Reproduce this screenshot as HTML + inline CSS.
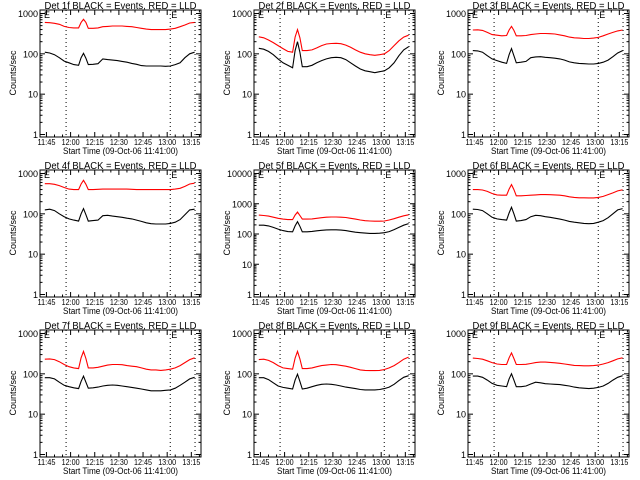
<!DOCTYPE html>
<html><head><meta charset="utf-8"><style>
html,body{margin:0;padding:0;background:#fff;}
svg{display:block;font-family:"Liberation Sans",sans-serif;}
</style></head><body>
<svg id="chart" width="640" height="480" viewBox="0 0 640 480"></svg>
<script>
// minutes since 11:41:00
const times = [3,6,9,12,15,18,21,24,25.5,27,28.5,30,33,36,39,42,45,48,51,54,57,60,63,66,69,72,75,78,81,84,87,90,93,96];
const xTickMinutes = [4,19,34,49,64,79,94];
const xTickLabels = ["11:45","12:00","12:15","12:30","12:45","13:00","13:15"];
const dottedMinutes = [16.2,80.9,96.3];
const detNames = ["1f","2f","3f","4f","5f","6f","7f","8f","9f"];
const yDecades = [3,3,3,3,4,3,3,3,3];
const red1 = [600,590,570,540,480,450,440,440,600,720,600,430,430,440,470,480,490,490,490,480,470,450,430,410,400,400,400,400,410,430,470,520,580,600];
const black1 = [110,105,95,80,66,60,54,52,80,103,78,54,55,57,75,72,70,68,65,62,58,55,51,50,50,50,50,49,50,54,60,80,100,110];
const red2 = [265,250,220,190,160,135,115,110,260,400,250,120,120,125,140,160,175,180,182,178,165,145,125,110,100,95,92,95,100,120,160,210,260,290];
const black2 = [137,130,115,95,75,60,52,45,120,200,110,48,48,52,60,68,75,80,82,80,72,60,50,42,38,36,34,36,38,45,60,90,125,150];
const red3 = [390,395,380,340,300,290,280,285,390,480,380,280,280,285,300,310,320,320,315,310,295,280,260,250,245,240,240,245,255,280,310,340,370,390];
const black3 = [120,118,110,90,75,68,62,58,95,135,90,60,62,65,80,84,85,82,80,78,75,70,63,60,58,57,56,56,58,62,70,85,105,120];
const red4 = [560,560,540,500,450,410,400,400,550,680,540,400,400,405,410,410,410,410,410,410,405,400,400,400,400,400,400,400,400,410,430,480,550,575];
const black4 = [125,130,120,100,85,75,70,66,100,135,95,66,68,70,90,92,88,85,82,78,75,70,65,60,57,56,56,56,58,62,72,95,125,130];
const red5 = [420,410,390,360,330,310,300,300,420,530,410,310,310,315,330,345,360,365,365,360,350,330,310,290,275,268,265,265,270,290,320,360,400,430];
const black5 = [195,195,185,165,145,130,120,118,185,255,180,118,118,122,128,133,137,138,138,135,130,122,115,110,107,105,105,106,110,120,140,165,195,220];
const red6 = [400,400,390,360,320,295,290,290,410,530,400,280,280,285,290,295,300,300,298,295,290,280,265,255,250,250,248,248,255,270,300,330,370,395];
const black6 = [130,128,120,100,82,75,72,70,105,145,100,66,68,72,85,92,90,85,82,78,74,70,65,62,60,58,57,58,62,68,80,100,125,135];
const red7 = [230,235,225,200,170,150,140,135,250,360,240,140,140,145,155,165,170,170,168,160,155,150,140,130,125,125,122,125,130,140,160,190,225,250];
const black7 = [80,80,75,62,52,48,45,43,65,88,62,44,45,47,50,52,53,52,50,48,46,44,42,40,38,38,38,39,40,44,52,62,75,82];
const red8 = [225,230,215,190,160,140,135,130,245,360,235,135,135,140,150,160,165,170,168,162,155,145,135,125,122,120,120,122,128,140,160,190,230,260];
const black8 = [80,80,72,60,50,46,44,42,70,98,65,42,44,48,52,55,56,55,53,50,47,45,43,41,40,40,40,41,43,47,55,68,82,90];
const red9 = [245,240,230,210,190,175,170,170,250,330,240,170,170,172,180,190,195,195,192,188,182,175,168,162,160,158,158,160,165,175,190,210,235,250];
const black9 = [88,88,82,70,58,52,50,48,75,100,70,48,48,50,56,62,60,57,56,55,54,52,50,47,45,44,43,44,46,50,58,70,82,90];
const redSeries = [red1,red2,red3,red4,red5,red6,red7,red8,red9];
const blackSeries = [black1,black2,black3,black4,black5,black6,black7,black8,black9];

const NS = "http://www.w3.org/2000/svg";
const svg = document.getElementById("chart");
function mk(tag, attrs, parent, txt){
  const e = document.createElementNS(NS, tag);
  for (const k in attrs) e.setAttribute(k, attrs[k]);
  if (txt !== undefined) e.textContent = txt;
  parent.appendChild(e);
  return e;
}
for (let p = 0; p < 9; p++) {
  const col = p % 3, row = Math.floor(p / 3);
  const ox = col * 214, oy = row * 160;
  const L = 40 + ox, R = 201 + ox, T = 10 + oy, B = 137 + oy;
  const nd = yDecades[p];
  const yTop = 13.5 + oy, yBot = 134.5 + oy;
  const xs = m => L + m * (R - L) / 100;
  const ys = v => yBot - Math.log10(v) * (yBot - yTop) / nd;
  const g = mk("g", {}, svg);
  
  
  const title = mk("text", {x:(L+R)/2, y:9+oy, "font-size":10, "text-anchor":"middle", textLength:152, lengthAdjust:"spacingAndGlyphs"}, g, "Det " + detNames[p] + " BLACK = Events, RED = LLD");
  
  
  dottedMinutes.forEach(m => {
    const d = mk("line", {x1:xs(m), x2:xs(m), y1:T, y2:B, stroke:"#000", "stroke-width":1, "stroke-dasharray":"1,3"}, g);
    
    
  });
  [2.5, 81.5].forEach(m => {
    const e = mk("text", {x:xs(m), y:T+8, "font-size":9}, g, "E");
    
    
  });
  const mkLine = (arr, color, name) => {
    const pts = arr.map((v, i) => xs(times[i]).toFixed(1) + "," + ys(v).toFixed(1)).join(" ");
    const pl = mk("polyline", {points:pts, fill:"none", stroke:color, "stroke-width":1.1}, g);
    
    
  };
  mkLine(redSeries[p], "#f00", "lld-red-series");
  mkLine(blackSeries[p], "#000", "events-black-series");
  const box = mk("rect", {x:L, y:T, width:R-L, height:B-T, fill:"none", stroke:"#000", "stroke-width":1}, g);
  
  
  for (let d = 0; d <= nd; d++) {
    const y = ys(Math.pow(10, d));
    mk("line", {x1:L, x2:L+5, y1:y, y2:y, stroke:"#000"}, g);
    mk("line", {x1:R, x2:R-5, y1:y, y2:y, stroke:"#000"}, g);
    const lab = mk("text", {x:L-2, y:y+3.5, "font-size":9, "text-anchor":"end"}, g, String(Math.pow(10, d)));
    
    
    if (d < nd) for (let k = 2; k <= 9; k++) {
      const ym = ys(k * Math.pow(10, d));
      mk("line", {x1:L, x2:L+2.5, y1:ym, y2:ym, stroke:"#000"}, g);
      mk("line", {x1:R, x2:R-2.5, y1:ym, y2:ym, stroke:"#000"}, g);
    }
  }
  for (let m = 4; m <= 99; m += 5) {
    const major = ((m - 4) % 15) === 0;
    const len = major ? 5 : 2.5;
    mk("line", {x1:xs(m), x2:xs(m), y1:B, y2:B-len, stroke:"#000"}, g);
    mk("line", {x1:xs(m), x2:xs(m), y1:T, y2:T+len, stroke:"#000"}, g);
  }
  xTickMinutes.forEach((m, i) => {
    const t = mk("text", {x:xs(m), y:145+oy, "font-size":8.5, "text-anchor":"middle", textLength:18, lengthAdjust:"spacingAndGlyphs"}, g, xTickLabels[i]);
    
    
  });
  const xt = mk("text", {x:(L+R)/2, y:154+oy, "font-size":9, "text-anchor":"middle", textLength:115, lengthAdjust:"spacingAndGlyphs"}, g, "Start Time (09-Oct-06 11:41:00)");
  
  
  const yt = mk("text", {x:0, y:0, "font-size":9, "text-anchor":"middle", transform:"translate(" + (16+ox) + "," + (73+oy) + ") rotate(-90)"}, g, "Counts/sec");
  
  
}
</script>
</body></html>
